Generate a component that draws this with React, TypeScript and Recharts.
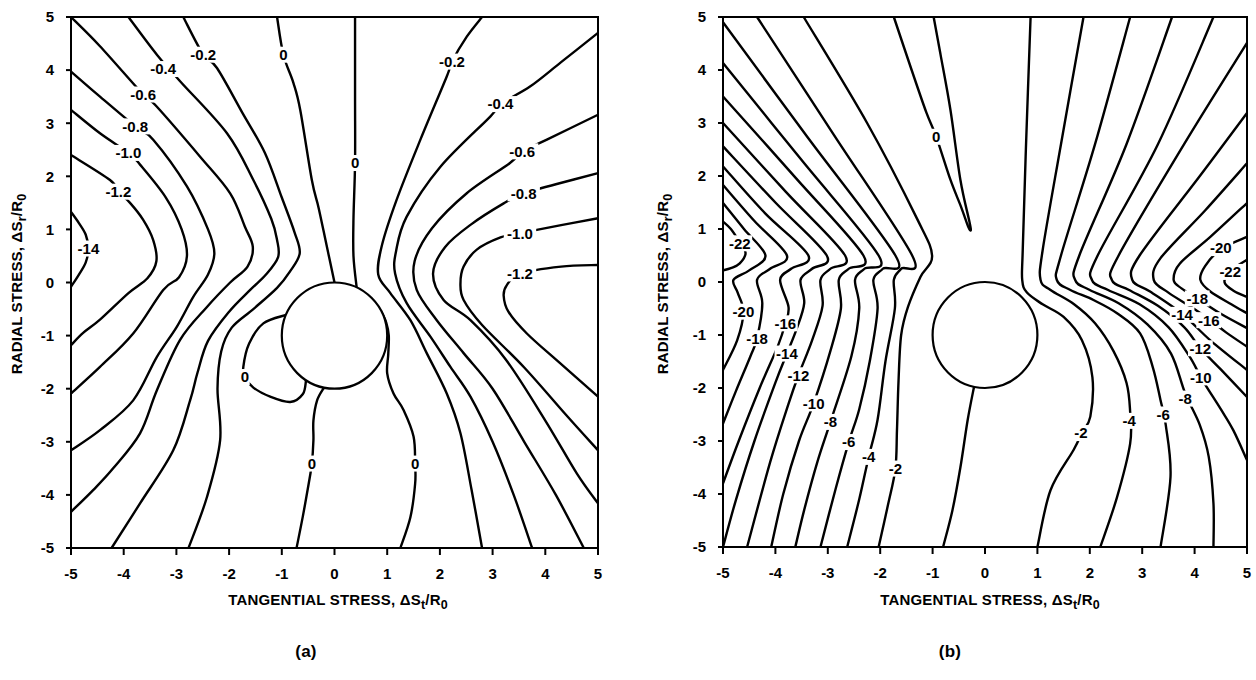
import React from "react";
import { ComposedChart, Line, XAxis, YAxis, Scatter, ReferenceArea } from "recharts";

type P = [number, number];
type L = [number, number, string];

const ticks = [-5, -4, -3, -2, -1, 0, 1, 2, 3, 4, 5];

// ---- panel (a) ----
const aM02L: P[] = [[-2.87, 5], [-2.49, 4.29], [-2.23, 4.04], [-1.75, 3.2], [-1.32, 2.44], [-1.0, 1.6], [-0.76, 0.95], [-0.66, 0.55], [-0.85, 0.2], [-1.09, -0.1], [-1.54, -0.5], [-1.95, -0.85], [-2.15, -1.3], [-2.22, -2.0], [-2.17, -2.97], [-2.42, -4.04], [-2.77, -5]];
const aM04L: P[] = [[-3.91, 5], [-3.37, 4.29], [-2.93, 3.79], [-2.04, 2.81], [-1.54, 1.93], [-1.2, 1.2], [-1.09, 0.8], [-1.07, 0.48], [-1.3, 0.15], [-1.6, -0.14], [-2.0, -0.55], [-2.4, -1.1], [-2.6, -1.7], [-2.74, -2.22], [-3.06, -3.16], [-3.69, -4.16], [-4.23, -5]];
const aM06L: P[] = [[-5, 5], [-4.45, 4.45], [-3.63, 3.54], [-3.37, 3.31], [-2.55, 2.37], [-1.98, 1.68], [-1.7, 1.05], [-1.55, 0.67], [-1.65, 0.3], [-1.98, 0.0], [-2.42, -0.46], [-2.93, -1.08], [-3.37, -2.03], [-3.69, -2.84], [-4.2, -3.5], [-4.58, -3.91], [-5, -4.32]];
const aM08L: P[] = [[-5, 3.97], [-4.45, 3.5], [-3.78, 2.94], [-3.44, 2.69], [-2.8, 1.81], [-2.4, 1.0], [-2.28, 0.55], [-2.4, 0.15], [-2.68, -0.27], [-2.99, -0.83], [-3.37, -1.4], [-3.82, -2.22], [-4.45, -2.78], [-5, -3.16]];
const aM10L: P[] = [[-5, 3.25], [-4.45, 2.81], [-3.91, 2.44], [-3.69, 2.22], [-3.2, 1.6], [-2.9, 1.0], [-2.8, 0.5], [-2.95, 0.1], [-3.25, -0.14], [-3.82, -0.96], [-4.45, -1.59], [-5, -2.09]];
const aM12L: P[] = [[-5, 2.4], [-4.26, 1.93], [-4.1, 1.71], [-3.88, 1.5], [-3.63, 1.18], [-3.44, 0.8], [-3.38, 0.4], [-3.55, 0.08], [-3.91, -0.2], [-4.45, -0.7], [-4.77, -0.95], [-5, -1.18]];
const aM14L: P[] = [[-5, 1.33], [-4.85, 1.12], [-4.72, 0.9], [-4.67, 0.64], [-4.72, 0.38], [-4.85, 0.15], [-5, -0.08]];
const aM02R: P[] = [[2.8, 5], [2.51, 4.63], [2.23, 4.16], [2.13, 3.88], [1.63, 2.69], [1.18, 1.56], [0.9, 0.7], [0.83, 0.15], [1.06, -0.2], [1.44, -0.71], [1.75, -1.33], [2.13, -2.09], [2.39, -2.84], [2.6, -3.9], [2.8, -5]];
const aM04R: P[] = [[5, 4.7], [4.3, 4.15], [3.71, 3.69], [3.15, 3.36], [2.96, 3.13], [2.01, 2.18], [1.37, 1.24], [1.17, 0.6], [1.15, 0.17], [1.37, -0.39], [1.82, -1.02], [2.2, -1.59], [2.58, -2.15], [3.0, -3.0], [3.4, -4.0], [3.75, -5]];
const aM06R: P[] = [[5, 3.16], [4.03, 2.69], [3.56, 2.47], [3.33, 2.25], [2.51, 1.68], [1.85, 1.02], [1.52, 0.4], [1.56, -0.14], [1.94, -0.71], [2.45, -1.33], [3.0, -2.0], [3.6, -3.0], [4.2, -4.0], [4.73, -5]];
const aM08R: P[] = [[5, 2.06], [4.2, 1.85], [3.59, 1.68], [3.21, 1.49], [2.6, 1.1], [2.1, 0.67], [1.87, 0.17], [2.07, -0.33], [2.58, -0.71], [3.25, -1.45], [4.0, -2.6], [4.6, -3.6], [5, -4.16]];
const aM10R: P[] = [[5, 1.21], [4.3, 1.08], [3.52, 0.93], [3.15, 0.85], [2.7, 0.62], [2.45, 0.3], [2.39, -0.02], [2.45, -0.33], [2.8, -0.8], [3.6, -1.6], [4.4, -2.5], [5, -3.16]];
const aM12R: P[] = [[5, 0.33], [4.3, 0.3], [3.52, 0.17], [3.27, -0.05], [3.21, -0.25], [3.3, -0.55], [3.65, -0.96], [4.28, -1.52], [5, -2.15]];
const aZero1: P[] = [[-1.09, 5], [-0.97, 4.29], [-0.78, 3.76], [-0.65, 3.25], [-0.43, 1.93], [-0.3, 1.4], [-0.15, 0.7], [0, 0]];
const aZero2: P[] = [[0.39, 5], [0.39, 3.5], [0.39, 2.25], [0.36, 1.2], [0.36, 0.5], [0.42, -0.09]];
const aZero3: P[] = [[-0.92, -0.61], [-1.35, -0.77], [-1.62, -1.15], [-1.73, -1.59], [-1.7, -1.78], [-1.54, -1.98], [-1.22, -2.15], [-0.84, -2.25], [-0.6, -2.1], [-0.54, -1.84]];
const aZero4: P[] = [[-0.2, -1.98], [-0.33, -2.22], [-0.4, -2.6], [-0.4, -2.97], [-0.43, -3.41], [-0.49, -3.79], [-0.6, -4.4], [-0.72, -5]];
const aZero5: P[] = [[0.88, -0.53], [0.98, -0.75], [1.03, -1.0], [1.02, -1.35], [1.0, -1.71], [1.12, -2.09], [1.31, -2.4], [1.5, -2.9], [1.53, -3.41], [1.53, -3.79], [1.44, -4.42], [1.25, -5]];

const aLabels: L[] = [
  [-2.49, 4.29, "-0.2"], [-3.25, 4.02, "-0.4"], [-3.63, 3.54, "-0.6"], [-3.78, 2.94, "-0.8"],
  [-3.91, 2.44, "-1.0"], [-4.1, 1.71, "-1.2"], [-4.67, 0.64, "-14"],
  [2.23, 4.16, "-0.2"], [3.15, 3.36, "-0.4"], [3.56, 2.47, "-0.6"], [3.59, 1.68, "-0.8"],
  [3.52, 0.93, "-1.0"], [3.52, 0.17, "-1.2"],
  [-0.97, 4.29, "0"], [0.39, 2.25, "0"], [-1.7, -1.78, "0"], [-0.43, -3.41, "0"], [1.53, -3.41, "0"],
];

// ---- panel (b) ----
const bM22L: P[] = [[-5, 1.14], [-4.85, 1.0], [-4.7, 0.78], [-4.57, 0.55], [-4.68, 0.35], [-4.85, 0.26], [-5, 0.22]];
const bM20L: P[] = [[-5, 1.49], [-4.6, 1.0], [-4.19, 0.5], [-4.5, 0.22], [-4.8, 0.04], [-4.72, -0.2], [-4.61, -0.56], [-4.73, -1.1], [-5, -1.66]];
const bM18L: P[] = [[-5, 1.83], [-4.4, 1.15], [-3.78, 0.5], [-4.1, 0.25], [-4.35, 0.04], [-4.25, -0.4], [-4.35, -1.06], [-4.48, -1.41], [-4.75, -2.05], [-5, -2.67]];
const bM16L: P[] = [[-5, 2.18], [-4.2, 1.3], [-3.37, 0.5], [-3.7, 0.25], [-3.91, 0.04], [-3.75, -0.47], [-3.81, -0.78], [-3.95, -1.2], [-4.3, -2.0], [-4.7, -3.0], [-5, -3.8]];
const bM14L: P[] = [[-5, 2.56], [-4.0, 1.5], [-3.02, 0.5], [-3.3, 0.25], [-3.52, 0.04], [-3.45, -0.4], [-3.6, -0.9], [-3.78, -1.35], [-4.0, -1.9], [-4.4, -3.0], [-4.75, -4.1], [-5, -5]];
const bM12L: P[] = [[-5, 3.0], [-3.8, 1.7], [-2.67, 0.5], [-2.95, 0.25], [-3.14, 0.04], [-3.1, -0.45], [-3.3, -1.1], [-3.56, -1.76], [-3.75, -2.3], [-4.1, -3.4], [-4.54, -5]];
const bM10L: P[] = [[-5, 3.5], [-3.6, 1.95], [-2.32, 0.5], [-2.6, 0.25], [-2.79, 0.04], [-2.75, -0.5], [-2.95, -1.3], [-3.27, -2.29], [-3.55, -3.0], [-3.85, -4.0], [-4.08, -5]];
const bM08L: P[] = [[-5, 4.13], [-3.5, 2.3], [-2.03, 0.5], [-2.3, 0.25], [-2.48, 0.04], [-2.4, -0.5], [-2.55, -1.4], [-2.95, -2.64], [-3.2, -3.4], [-3.45, -4.3], [-3.62, -5]];
const bM06L: P[] = [[-5, 4.9], [-3.4, 2.75], [-1.71, 0.5], [-1.95, 0.25], [-2.13, 0.04], [-2.05, -0.5], [-2.2, -1.5], [-2.4, -2.4], [-2.6, -3.02], [-2.85, -3.9], [-3.14, -5]];
const bM04L: P[] = [[-4.35, 5], [-2.9, 2.8], [-1.39, 0.5], [-1.6, 0.25], [-1.74, 0.04], [-1.72, -0.5], [-1.9, -1.5], [-2.05, -2.6], [-2.22, -3.3], [-2.4, -4.1], [-2.63, -5]];
const bM02L: P[] = [[-3.46, 5], [-2.25, 3.0], [-1.3, 1.2], [-1.01, 0.5], [-1.23, 0.1], [-1.47, -0.47], [-1.6, -1.0], [-1.65, -1.86], [-1.68, -2.8], [-1.71, -3.52], [-1.85, -4.2], [-2.03, -5]];
const bM02R: P[] = [[0.87, 5], [0.78, 2.5], [0.72, 0.6], [0.71, 0.04], [0.8, -0.2], [1.1, -0.42], [1.5, -0.66], [1.85, -1.1], [2.05, -1.8], [2.01, -2.54], [1.85, -2.85], [1.69, -3.17], [1.25, -3.93], [1.0, -5]];
const bM04R: P[] = [[1.88, 5], [1.45, 2.6], [1.1, 0.6], [1.06, 0.04], [1.25, -0.15], [1.7, -0.42], [2.1, -0.78], [2.45, -1.3], [2.7, -1.9], [2.77, -2.45], [2.77, -3.05], [2.52, -4.06], [2.2, -5]];
const bM06R: P[] = [[2.77, 5], [2.1, 2.6], [1.45, 0.5], [1.37, 0.04], [1.63, -0.15], [2.07, -0.34], [2.52, -0.59], [2.96, -0.97], [3.2, -1.6], [3.35, -2.23], [3.45, -2.7], [3.54, -3.68], [3.35, -5]];
const bM08R: P[] = [[3.57, 5], [2.7, 2.6], [1.8, 0.5], [1.72, 0.04], [2.0, -0.15], [2.55, -0.4], [3.1, -0.8], [3.55, -1.35], [3.82, -2.1], [4.1, -2.7], [4.27, -3.3], [4.36, -4.18], [4.36, -5]];
const bM10R: P[] = [[4.36, 5], [3.3, 2.6], [2.15, 0.5], [2.04, 0.04], [2.35, -0.15], [2.95, -0.42], [3.5, -0.85], [3.9, -1.4], [4.15, -1.85], [4.5, -2.4], [4.74, -2.8], [5, -3.36]];
const bM12R: P[] = [[5, 4.51], [3.8, 2.6], [2.55, 0.5], [2.42, 0.04], [2.75, -0.15], [3.3, -0.45], [3.8, -0.85], [4.11, -1.25], [4.5, -1.65], [5, -2.17]];
const bM14R: P[] = [[5, 3.19], [4.1, 2.0], [2.95, 0.5], [2.81, 0.04], [3.15, -0.18], [3.76, -0.6], [4.3, -1.1], [5, -1.66]];
const bM16R: P[] = [[5, 2.24], [4.2, 1.35], [3.35, 0.45], [3.22, 0.04], [3.5, -0.2], [3.9, -0.45], [4.27, -0.7], [4.6, -0.95], [5, -1.22]];
const bM18R: P[] = [[5, 1.49], [4.3, 0.85], [3.72, 0.35], [3.6, 0.04], [3.75, -0.12], [4.05, -0.31], [4.5, -0.6], [5, -0.87]];
const bM20R: P[] = [[5, 0.85], [4.5, 0.62], [4.2, 0.3], [4.11, 0.04], [4.3, -0.18], [4.7, -0.42], [5, -0.59]];
const bM22R: P[] = [[5, 0.42], [4.7, 0.22], [4.57, 0.0], [4.75, -0.17], [5, -0.28]];
const bZeroSpike: P[] = [[-1.74, 5], [-1.4, 4.0], [-1.12, 3.2], [-0.93, 2.74], [-0.66, 1.93], [-0.45, 1.4], [-0.32, 1.04], [-0.27, 0.98], [-0.3, 1.15], [-0.47, 1.93], [-0.66, 3.25], [-0.85, 4.3], [-0.98, 5]];
const bBottom: P[] = [[-0.21, -1.98], [-0.33, -2.6], [-0.47, -3.5], [-0.62, -4.3], [-0.8, -5]];

const bLabels: L[] = [
  [-4.68, 0.73, "-22"], [-4.61, -0.56, "-20"], [-4.35, -1.06, "-18"], [-3.81, -0.78, "-16"],
  [-3.78, -1.35, "-14"], [-3.56, -1.76, "-12"], [-3.27, -2.29, "-10"], [-2.95, -2.64, "-8"],
  [-2.6, -3.02, "-6"], [-2.22, -3.3, "-4"], [-1.71, -3.52, "-2"], [-0.93, 2.74, "0"],
  [4.5, 0.64, "-20"], [4.68, 0.19, "-22"], [4.05, -0.31, "-18"], [3.76, -0.62, "-14"],
  [4.27, -0.72, "-16"], [4.11, -1.25, "-12"], [4.12, -1.8, "-10"], [3.82, -2.2, "-8"],
  [3.4, -2.5, "-6"], [2.75, -2.62, "-4"], [1.83, -2.85, "-2"],
];

const hole = [{ x: 0, y: -1 }];

const FONT = "'Liberation Sans Narrow', 'Liberation Sans', Arial, sans-serif";

const aLines = [aM02L, aM04L, aM06L, aM08L, aM10L, aM12L, aM14L, aM02R, aM04R, aM06R, aM08R, aM10R, aM12R, aZero1, aZero2, aZero3, aZero4, aZero5];
const bLines = [bM22L, bM20L, bM18L, bM16L, bM14L, bM12L, bM10L, bM08L, bM06L, bM04L, bM02L, bM02R, bM04R, bM06R, bM08R, bM10R, bM12R, bM14R, bM16R, bM18R, bM20R, bM22R, bZeroSpike, bBottom];

// Catmull-Rom through the points, no overshoot like the natural spline
function catmullRom(context: any) {
  let pts: number[][] = [];
  return {
    areaStart() {},
    areaEnd() {},
    lineStart() {
      pts = [];
    },
    point(x: number, y: number) {
      pts.push([x, y]);
    },
    lineEnd() {
      if (!pts.length) return;
      context.moveTo(pts[0][0], pts[0][1]);
      for (let i = 0; i < pts.length - 1; i++) {
        const p0 = pts[Math.max(i - 1, 0)];
        const p1 = pts[i];
        const p2 = pts[i + 1];
        const p3 = pts[Math.min(i + 2, pts.length - 1)];
        context.bezierCurveTo(
          p1[0] + (p2[0] - p0[0]) / 6, p1[1] + (p2[1] - p0[1]) / 6,
          p2[0] - (p3[0] - p1[0]) / 6, p2[1] - (p3[1] - p1[1]) / 6,
          p2[0], p2[1]
        );
      }
    },
  };
}

function ContourLabel(props: any) {
  const { cx, cy, payload } = props;
  const w = payload.t.length * 7.6 + 2;
  return (
    <g>
      <rect x={cx - w / 2} y={cy - 8} width={w} height={16} fill="#fff" />
      <text x={cx} y={cy} dy="0.36em" textAnchor="middle" fontSize={15} fontWeight={700} fontFamily={FONT} fill="#000">
        {payload.t}
      </text>
    </g>
  );
}

interface PanelProps {
  width: number;
  height: number;
  margin: { top: number; right: number; bottom: number; left: number };
  lines: P[][];
  labels: L[];
}

function Panel({ width, height, margin, lines, labels }: PanelProps) {
  const plotW = width - margin.left - margin.right - 40;
  const plotH = height - margin.top - margin.bottom - 40;
  const rx = plotW / 10;
  const ry = plotH / 10;
  const tick = { fill: "#000", fontSize: 15, fontWeight: 700, fontFamily: FONT };
  return (
    <ComposedChart width={width} height={height} margin={margin}>
      <XAxis dataKey="x" type="number" domain={[-5, 5]} ticks={ticks} interval={0} height={40}
        tick={tick} tickSize={7} tickMargin={13} stroke="#000" strokeWidth={2} />
      <YAxis type="number" domain={[-5, 5]} ticks={ticks} interval={0} width={40}
        tick={tick} tickSize={5} tickMargin={12} stroke="#000" strokeWidth={2} />
      {lines.map((c, i) => (
        <Line key={i} data={c.map(([x, y]) => ({ x, y }))} dataKey="y" type={catmullRom as any} dot={false}
          activeDot={false} stroke="#000" strokeWidth={2.4} isAnimationActive={false} />
      ))}
      <Scatter data={labels.map(([x, y, t]) => ({ x, y, t }))} dataKey="y" shape={ContourLabel} isAnimationActive={false} />
      <Scatter data={hole} dataKey="y" isAnimationActive={false}
        shape={(p: any) => <ellipse cx={p.cx} cy={p.cy} rx={rx} ry={ry} fill="#fff" stroke="#000" strokeWidth={2.2} />} />
      <ReferenceArea x1={-5} x2={5} y1={-5} y2={5} fill="none" fillOpacity={0} stroke="#000" strokeWidth={2} />
    </ComposedChart>
  );
}

const titleStyle: React.CSSProperties = {
  position: "absolute",
  fontFamily: FONT,
  fontWeight: 700,
  fontSize: 15,
  letterSpacing: 0.2,
  whiteSpace: "nowrap",
  color: "#000",
};

function XTitle({ cx }: { cx: number }) {
  return (
    <div style={{ ...titleStyle, left: cx, top: 601, transform: "translate(-50%, -50%)" }}>
      TANGENTIAL STRESS, ΔS<sub>t</sub>/R<sub>0</sub>
    </div>
  );
}

function YTitle({ cx }: { cx: number }) {
  return (
    <div style={{ ...titleStyle, left: cx, top: 284, transform: "translate(-50%, -50%) rotate(-90deg)" }}>
      RADIAL STRESS, ΔS<sub>r</sub>/R<sub>0</sub>
    </div>
  );
}

export default function App() {
  return (
    <div style={{ position: "absolute", left: 0, top: 0, width: 1256, height: 680, background: "#fff", overflow: "hidden" }}>
      <div style={{ position: "absolute", left: 0, top: 0 }}>
        <Panel width={620} height={600} margin={{ top: 17, right: 22, bottom: 12, left: 31 }} lines={aLines} labels={aLabels} />
      </div>
      <div style={{ position: "absolute", left: 640, top: 0 }}>
        <Panel width={616} height={600} margin={{ top: 17, right: 9, bottom: 13, left: 43 }} lines={bLines} labels={bLabels} />
      </div>
      <YTitle cx={18} />
      <YTitle cx={664} />
      <XTitle cx={338} />
      <XTitle cx={990} />
      <div style={{ ...titleStyle, fontSize: 17, left: 306, top: 652, transform: "translate(-50%, -50%)" }}>(a)</div>
      <div style={{ ...titleStyle, fontSize: 17, left: 950, top: 652, transform: "translate(-50%, -50%)" }}>(b)</div>
    </div>
  );
}
